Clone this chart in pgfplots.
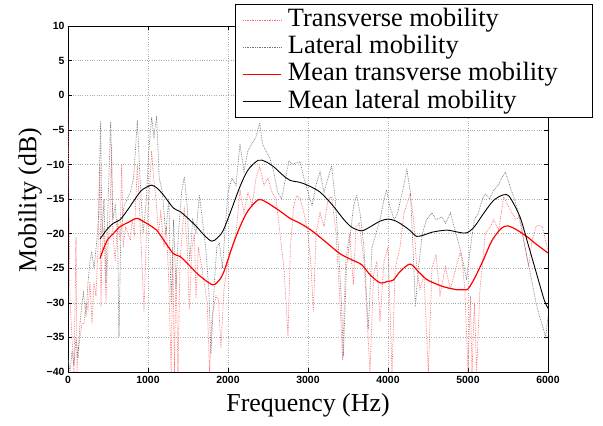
\documentclass[border=0pt]{standalone}
\usepackage{fontspec}
\setmainfont{Liberation Serif}
\setsansfont{Liberation Sans}
\usepackage{pgfplots}
\pgfplotsset{compat=1.18}

\begin{document}
\begin{tikzpicture}
\begin{axis}[
    scale only axis,
    width=480bp, height=346bp,
    xmin=0, xmax=6000, ymin=-40, ymax=10,
    axis line style={line width=1pt},
    xtick={0,1000,2000,3000,4000,5000,6000},
    xticklabels={0,1000,2000,3000,4000,5000,6000},
    ytick={-40,-35,-30,-25,-20,-15,-10,-5,0,5,10},
    yticklabels={−40,−35,−30,−25,−20,−15,−10,−5,0,5,10},
    tick align=inside,
    major tick length=4bp,
    tick style={black, line width=0.5pt},
    tick label style={font=\fontsize{10.5}{12}\selectfont\sffamily\bfseries},
    xticklabel style={yshift=-1bp},
    grid=major,
    grid style={dotted, gray!65, line width=0.5pt},
    xlabel={Frequency (Hz)},
    ylabel={Mobility (dB)},
    every axis x label/.style={at={(axis description cs:0.5,-0.095)}, anchor=center,
        font=\fontsize{26}{28}\selectfont},
    every axis y label/.style={at={(axis description cs:-0.079,0.497)}, rotate=90, anchor=center,
        font=\fontsize{26}{28}\selectfont},
    legend cell align=left,
    legend style={at={(1.094,1.0636)}, anchor=north east, line width=0.8pt,
        fill=white, font=\fontsize{26.5}{27}\selectfont, inner xsep=7bp, inner ysep=2bp,
        row sep=0bp, nodes={inner sep=1bp, text height=19bp, text depth=6.3bp}},
    legend image code/.code={\draw[#1, line width=1pt] (0bp,0bp) -- (38bp,0bp);
        \path (43bp,0bp);},
]
% raw transverse mobility
\addplot[red!60, densely dotted, line width=0.7pt] coordinates {
(0,-2)(12,-15)(25,-29.6)(50,-35)(75,-40)(100,-20.5)(112,-40)(125,-37)(150,-35)(175,-33)
(200,-33)(225,-30)(250,-31)(275,-27)(300,-33)(325,-27)(350,-29)(375,-22)(400,-10)(412,-30.6)
(425,-23)(450,-19)(475,-30)(500,-22)(525,-17)(546,-7)(560,-20)(590,-24)(620,-18)(650,-21)
(671,-10)(690,-22)(720,-19)(750,-20)(780,-21)(800,-18)(830,-20)(867,-10)(900,-18)(950,-31.3)
(980,-20)(1010,-15)(1046,-8)(1070,-12)(1100,-15)(1130,-20)(1160,-17)(1200,-22)(1230,-19)(1260,-27)
(1290,-40)(1310,-22)(1330,-40)(1350,-25)(1375,-40)(1400,-24)(1454,-16.1)(1490,-22)(1517,-31)(1550,-22)
(1580,-20)(1600,-29.4)(1630,-22)(1660,-24)(1700,-27)(1740,-30)(1770,-40)(1800,-32)(1850,-29)(1880,-29.5)
(1912,-36.5)(1950,-28)(2000,-24)(2050,-22)(2100,-20)(2150,-13.7)(2200,-17)(2250,-14)(2300,-16)(2350,-12)
(2396,-10.3)(2450,-13)(2500,-12)(2550,-14)(2600,-15)(2650,-20)(2700,-25)(2750,-34.9)(2780,-22)(2820,-16)
(2860,-14.5)(2900,-14.9)(2950,-17)(3000,-20)(3040,-25)(3067,-31.3)(3100,-20)(3150,-17)(3200,-19)(3250,-15)
(3296,-14.7)(3350,-20)(3400,-30)(3433,-38.3)(3470,-24)(3520,-20)(3567,-27.4)(3600,-19)(3640,-18.5)(3700,-24)
(3775,-40)(3820,-26)(3860,-24)(3900,-32.7)(3950,-24)(4000,-22)(4050,-40)(4090,-25)(4150,-22)(4200,-17)
(4279,-14.2)(4320,-18)(4360,-25)(4400,-28)(4450,-26)(4504,-40)(4550,-25)(4600,-23)(4650,-28.9)(4717,-24.8)
(4780,-28)(4850,-25)(4900,-22.8)(4925,-23.8)(4960,-28)(5000,-40)(5030,-29)(5050,-40)(5080,-30)(5108,-40)
(5150,-28)(5217,-20)(5280,-19)(5321,-18)(5383,-19.5)(5446,-14.7)(5500,-16)(5550,-17)(5600,-18)(5650,-17.5)
(5700,-21)(5758,-24.8)(5800,-21)(5850,-19)(5883,-18.8)(5930,-19)(5970,-21)(6000,-22.4)
};
\addlegendentry{Transverse mobility}
% raw lateral mobility
\addplot[black!55, densely dotted, line width=0.7pt] coordinates {
(0,-38)(25,-40)(50,-37)(75,-39)(100,-35)(125,-38)(150,-33)(175,-30)(192,-28.6)(225,-32)
(250,-27)(275,-24)(296,-22.6)(325,-25)(358,-21.3)(380,-18)(408,-3.8)(425,-20)(450,-15)(475,-27)
(500,-16)(533,-3.8)(560,-18)(590,-16)(620,-20)(637,-34.9)(660,-20)(700,-16)(740,-15)(780,-14)
(820,-12)(867,-3.6)(900,-12)(940,-20)(980,-15)(1010,-8)(1046,-3.2)(1075,-6)(1108,-3)(1140,-12)
(1180,-14)(1220,-20)(1260,-15)(1290,-30.3)(1320,-18)(1350,-28)(1380,-20)(1420,-14)(1454,-11.8)(1490,-16)
(1520,-24)(1560,-18)(1600,-20)(1642,-14.4)(1680,-18)(1720,-22)(1760,-28)(1787,-37.3)(1830,-27)(1860,-22)
(1892,-21.4)(1930,-25)(1960,-20)(2000,-14)(2050,-12)(2100,-13)(2150,-7)(2200,-11)(2250,-8)(2300,-7)
(2350,-6)(2396,-4)(2430,-7)(2470,-8)(2520,-9)(2570,-11)(2620,-14)(2670,-15)(2720,-12)(2760,-9.5)
(2800,-10)(2850,-9.8)(2900,-9.6)(2950,-12)(3000,-14)(3050,-16)(3100,-13)(3150,-11.1)(3200,-14)(3250,-12)
(3296,-10.2)(3340,-15)(3380,-22)(3417,-29.6)(3442,-37.8)(3480,-25)(3530,-20)(3570,-16)(3608,-14.4)(3650,-17)
(3700,-22)(3754,-33.9)(3800,-22)(3850,-20)(3900,-18)(3950,-15)(3983,-13.7)(4020,-16)(4080,-18)(4120,-17)
(4180,-14)(4237,-10.8)(4280,-14)(4320,-24)(4342,-30.6)(4380,-25)(4430,-20)(4480,-18)(4550,-17)(4600,-18)
(4675,-17.6)(4720,-18.5)(4780,-17)(4850,-20)(4920,-23)(4983,-26.7)(5030,-22)(5080,-18)(5130,-17)(5180,-15)
(5217,-14.2)(5270,-15)(5321,-13.7)(5380,-13)(5420,-12)(5467,-11.1)(5520,-13)(5580,-15)(5630,-17)(5675,-19.9)
(5730,-23)(5800,-27)(5850,-30)(5883,-31.5)(5946,-33.9)(5970,-35)(6000,-32)
};
\addlegendentry{Lateral mobility}
% mean curves
\addplot[red, line width=1.2pt, smooth] coordinates {
(400,-23.6)(450,-22)(500,-20.8)(567,-20)(650,-19)(750,-18.4)(858,-17.8)(950,-18.3)(1050,-19)(1108,-19.5)
(1200,-21)(1317,-22.9)(1400,-23.3)(1500,-24.4)(1608,-25.7)(1700,-26.6)(1808,-27.4)(1870,-27)(1942,-25.7)(2050,-22)
(2150,-19)(2250,-16.7)(2379,-15.1)(2470,-15.4)(2567,-16.1)(2680,-17)(2775,-17.8)(2900,-18.5)(3050,-19.6)(3200,-21)
(3400,-22.9)(3550,-23.8)(3671,-24.5)(3780,-26)(3900,-27.1)(4000,-26.9)(4067,-26.7)(4150,-25.5)(4275,-24.4)(4380,-25.5)
(4480,-26.6)(4567,-27.1)(4700,-27.7)(4858,-28.1)(4950,-28.1)(5000,-28)(5080,-26.5)(5192,-23.8)(5300,-21)(5420,-19.2)
(5504,-18.9)(5600,-19.4)(5733,-20.4)(5850,-21.5)(6000,-22.8)
};
\addlegendentry{Mean transverse mobility\hspace*{27bp}}
\addplot[black, line width=0.9pt, smooth] coordinates {
(400,-20.8)(480,-19.5)(567,-18.5)(650,-18)(750,-16.5)(900,-14)(980,-13.3)(1046,-13)(1110,-13.4)(1192,-14.4)
(1317,-16.3)(1400,-16.8)(1500,-17.8)(1608,-19)(1700,-20.2)(1796,-21.1)(1870,-20.6)(1942,-19.5)(2050,-16.3)(2150,-13.2)
(2250,-10.8)(2379,-9.4)(2470,-9.6)(2567,-10.3)(2680,-11.5)(2775,-12.3)(2900,-12.6)(3012,-13.1)(3150,-14)(3300,-15.8)
(3450,-18)(3550,-19.1)(3671,-19.6)(3780,-19)(3900,-18.2)(4004,-17.9)(4100,-18.2)(4200,-18.9)(4280,-19.6)(4358,-20.4)
(4450,-20.2)(4550,-19.8)(4733,-19.5)(4880,-19.8)(4983,-19.9)(5080,-19)(5200,-17)(5320,-15.2)(5442,-14.4)(5520,-14.7)
(5650,-17.6)(5750,-21.5)(5850,-25.5)(5950,-29.5)(6000,-30.8)
};
\addlegendentry{Mean lateral mobility}
\end{axis}
\path (current axis.south west) ++(-68bp,-54bp) rectangle ++(603bp,426bp);
\end{tikzpicture}
\end{document}
